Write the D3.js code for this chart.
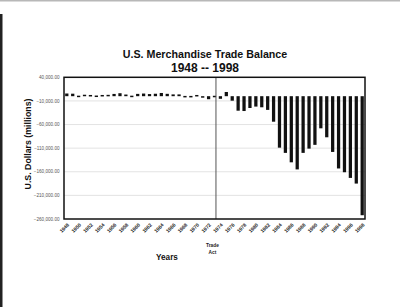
<!DOCTYPE html>
<html>
<head>
<meta charset="utf-8">
<script src="https://cdn.jsdelivr.net/npm/d3@7/dist/d3.min.js"></script>
<style>
  html, body { margin: 0; padding: 0; background: #fff; }
  svg { display: block; font-family: "Liberation Sans", Arial, sans-serif; }
</style>
</head>
<body>
<svg id="chart" width="400" height="307"></svg>
<script>
// categories: one bar per year
const years = d3.range(1948, 1999);
// merchandise trade balance, US$ millions
const balance = [
  5700, 5300, 1100, 3100, 2600, 1400, 2600, 2900, 4800, 6300,
  3500, 1100, 4900, 5600, 4500, 5200, 6800, 5000, 3800, 3800,
  600, 600, 2600, -2300, -6400, 900, -5500, 8900, -9500, -30700,
  -31400, -25000, -22000, -23500, -29000, -54000, -109000, -120000, -140000, -155000,
  -120000, -111000, -103000, -68000, -87000, -118000, -153000, -161000, -173000, -185000,
  -252000
];
const yTicks = [40000, -10000, -60000, -110000, -160000, -210000, -260000];
const xTickYears = years.filter((y) => y % 2 === 0);
const tradeActYear = 1974;

const svg = d3.select("#chart");
const margin = { top: 77.3, left: 64, right: 35, bottom: 88 };
const width = 400;
const height = 307;

const x = d3.scaleBand().domain(years).range([margin.left, width - margin.right]).paddingInner(0.45).paddingOuter(0.2);
const y = d3.scaleLinear().domain([-260000, 40000]).range([219, margin.top]);
const cx = (yr) => x(yr) + x.bandwidth() / 2;

// scan edges
svg.append("rect").attr("x", 0).attr("y", 0).attr("width", width).attr("height", 1.5).attr("fill", "#b8b8b8");
svg.append("rect").attr("x", 0).attr("y", 14).attr("width", 2.5).attr("height", height - 14).attr("fill", "#222");

// titles
svg.append("text").attr("x", 205).attr("y", 57.5).attr("text-anchor", "middle")
  .attr("font-size", 10.7).attr("font-weight", "bold").attr("fill", "#111")
  .text("U.S. Merchandise Trade Balance");
svg.append("text").attr("x", 205).attr("y", 71.8).attr("text-anchor", "middle")
  .attr("font-size", 12).attr("font-weight", "bold").attr("fill", "#111")
  .text("1948 -- 1998");

// gridlines
svg.append("g").selectAll("line").data(yTicks.slice(1, -1)).join("line")
  .attr("x1", margin.left).attr("x2", width - margin.right)
  .attr("y1", (d) => y(d)).attr("y2", (d) => y(d))
  .attr("stroke", "#dcdcdc").attr("stroke-width", 0.8);

// y tick labels
svg.append("g").selectAll("text").data(yTicks).join("text")
  .attr("x", 59.5).attr("y", (d) => y(d)).attr("dy", "0.35em")
  .attr("text-anchor", "end").attr("font-size", 4.6).attr("fill", "#555")
  .text((d) => d3.format(",.2f")(d));

// bars
svg.append("g").selectAll("rect").data(years).join("rect")
  .attr("x", (d) => x(d))
  .attr("width", x.bandwidth())
  .attr("y", (d, i) => Math.min(y(0), y(balance[i])))
  .attr("height", (d, i) => Math.max(1.5, Math.abs(y(balance[i]) - y(0))))
  .attr("fill", "#111");

// trade act marker
const tradeX = (cx(tradeActYear - 1) + cx(tradeActYear)) / 2 - 1.5;
svg.append("line").attr("x1", tradeX).attr("x2", tradeX)
  .attr("y1", margin.top).attr("y2", y(-260000))
  .attr("stroke", "#555").attr("stroke-width", 1);

// frame
svg.append("rect").attr("x", margin.left).attr("y", margin.top)
  .attr("width", width - margin.right - margin.left).attr("height", y(-260000) - margin.top)
  .attr("fill", "none").attr("stroke", "#111").attr("stroke-width", 1.5);

// x tick labels
svg.append("g").selectAll("text").data(xTickYears).join("text")
  .attr("transform", (d) => `translate(${cx(d) + 1.5},${y(-260000) + 5}) rotate(-45)`)
  .attr("text-anchor", "end").attr("dy", "0.35em")
  .attr("font-size", 5).attr("font-weight", "bold").attr("fill", "#222")
  .text((d) => d);

svg.append("text").attr("x", cx(tradeActYear) - 8).attr("y", 246.5).attr("text-anchor", "middle")
  .attr("font-size", 4.8).attr("font-weight", "bold").attr("fill", "#222").text("Trade");
svg.append("text").attr("x", cx(tradeActYear) - 8).attr("y", 253.5).attr("text-anchor", "middle")
  .attr("font-size", 4.8).attr("font-weight", "bold").attr("fill", "#222").text("Act");

// axis titles
svg.append("text").attr("x", 167).attr("y", 260).attr("text-anchor", "middle")
  .attr("font-size", 8.2).attr("font-weight", "bold").attr("fill", "#111").text("Years");
svg.append("text").attr("transform", "translate(31,144) rotate(-90)").attr("text-anchor", "middle")
  .attr("font-size", 8.8).attr("font-weight", "bold").attr("fill", "#111").text("U.S. Dollars (millions)");
</script>
</body>
</html>
